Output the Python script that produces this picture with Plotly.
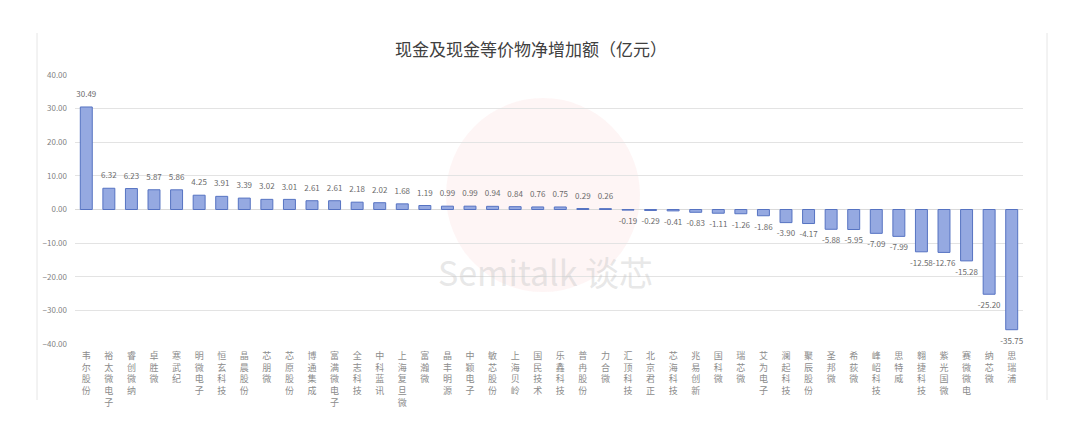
import plotly.graph_objects as go

companies = ["韦尔股份", "裕太微电子", "睿创微纳", "卓胜微", "寒武纪", "明微电子", "恒玄科技", "晶晨股份",
             "芯朋微", "芯原股份", "博通集成", "富满微电子", "全志科技", "中科蓝讯", "上海复旦微", "富瀚微",
             "晶丰明源", "中颖电子", "敏芯股份", "上海贝岭", "国民技术", "乐鑫科技", "普冉股份", "力合微",
             "汇顶科技", "北京君正", "芯海科技", "兆易创新", "国科微", "瑞芯微", "艾为电子", "澜起科技",
             "聚辰股份", "圣邦微", "希荻微", "峰岹科技", "思特威", "翱捷科技", "紫光国微", "赛微微电",
             "纳芯微", "思瑞浦"]
values = [30.49, 6.32, 6.23, 5.87, 5.86, 4.25, 3.91, 3.39, 3.02, 3.01, 2.61, 2.61, 2.18, 2.02, 1.68, 1.19,
          0.99, 0.99, 0.94, 0.84, 0.76, 0.75, 0.29, 0.26, -0.19, -0.29, -0.41, -0.83, -1.11, -1.26, -1.86,
          -3.90, -4.17, -5.88, -5.95, -7.09, -7.99, -12.58, -12.76, -15.28, -25.20, -35.75]
y_ticks = [40, 30, 20, 10, 0, -10, -20, -30, -40]
title = "现金及现金等价物净增加额（亿元）"

vertical_labels = ["<br>".join(list(c)) for c in companies]
xs = list(range(len(companies)))

# page has an 8px body margin; helpers convert screen px to plot-paper coords
PL, PR, PT, PB = 75, 1023, 75, 344
def px(x):
    return (x - PL) / (PR - PL)
def py(y):
    return (PB - y) / (PB - PT)

fig = go.Figure()
fig.add_trace(go.Bar(
    x=xs, y=values,
    marker=dict(color="#95a9e1", line=dict(color="#5673c2", width=1)),
    width=0.53, hoverinfo="x+y",
))
fig.add_trace(go.Scatter(
    x=xs, y=values, mode="markers+text",
    marker=dict(size=11, color="rgba(0,0,0,0)"),
    text=[f"{v:.2f}" for v in values],
    textposition=["top center" if v >= 0 else "bottom center" for v in values],
    textfont=dict(size=8, color="#6b6b6b"),
    cliponaxis=False, hoverinfo="skip",
))

# watermark
fig.add_shape(type="circle", xref="paper", yref="paper",
              x0=px(446), x1=px(640), y0=py(292), y1=py(98),
              fillcolor="rgba(235,120,110,0.07)", line=dict(width=0), layer="below")
fig.add_annotation(text="Semitalk 谈芯", xref="paper", yref="paper",
                   x=px(545), y=py(298), showarrow=False,
                   font=dict(size=34, color="rgba(195,195,195,0.4)", family="Noto Sans CJK SC"))

# frame lines
for xx in [37, 1047]:
    fig.add_shape(type="line", xref="paper", yref="paper", x0=px(xx), x1=px(xx),
                  y0=py(400), y1=py(33), line=dict(color="#e6e6e6", width=1))

fig.update_layout(
    width=1059, height=429,
    paper_bgcolor="white", plot_bgcolor="white",
    margin=dict(l=PL - 8, r=1067 - PR, t=PT - 8, b=437 - PB),
    font=dict(family="Noto Sans CJK SC", color="#7f7f7f"),
    title=dict(text=title, x=(531 - 8) / 1059, xanchor="center",
               y=1 - (50 - 8) / 429, yanchor="middle",
               font=dict(size=17, color="#404040")),
    showlegend=False,
)
fig.update_xaxes(
    tickmode="array", tickvals=xs, ticktext=vertical_labels,
    tickangle=0, tickfont=dict(size=9, color="#8c8c8c"),
    showgrid=False, zeroline=False, showline=False, ticks="",
    range=[-0.5, len(companies) - 0.5], ticklabelstandoff=5,
)
fig.update_yaxes(
    range=[-40, 40], tickvals=y_ticks, tickformat=".2f",
    tickfont=dict(size=8, color="#7f7f7f"),
    showgrid=True, gridcolor="#e3e3e3", gridwidth=1,
    zeroline=True, zerolinecolor="#d9d9d9", zerolinewidth=1,
    showline=False, ticks="", ticklabelstandoff=7,
)

fig.write_html("out.html")
